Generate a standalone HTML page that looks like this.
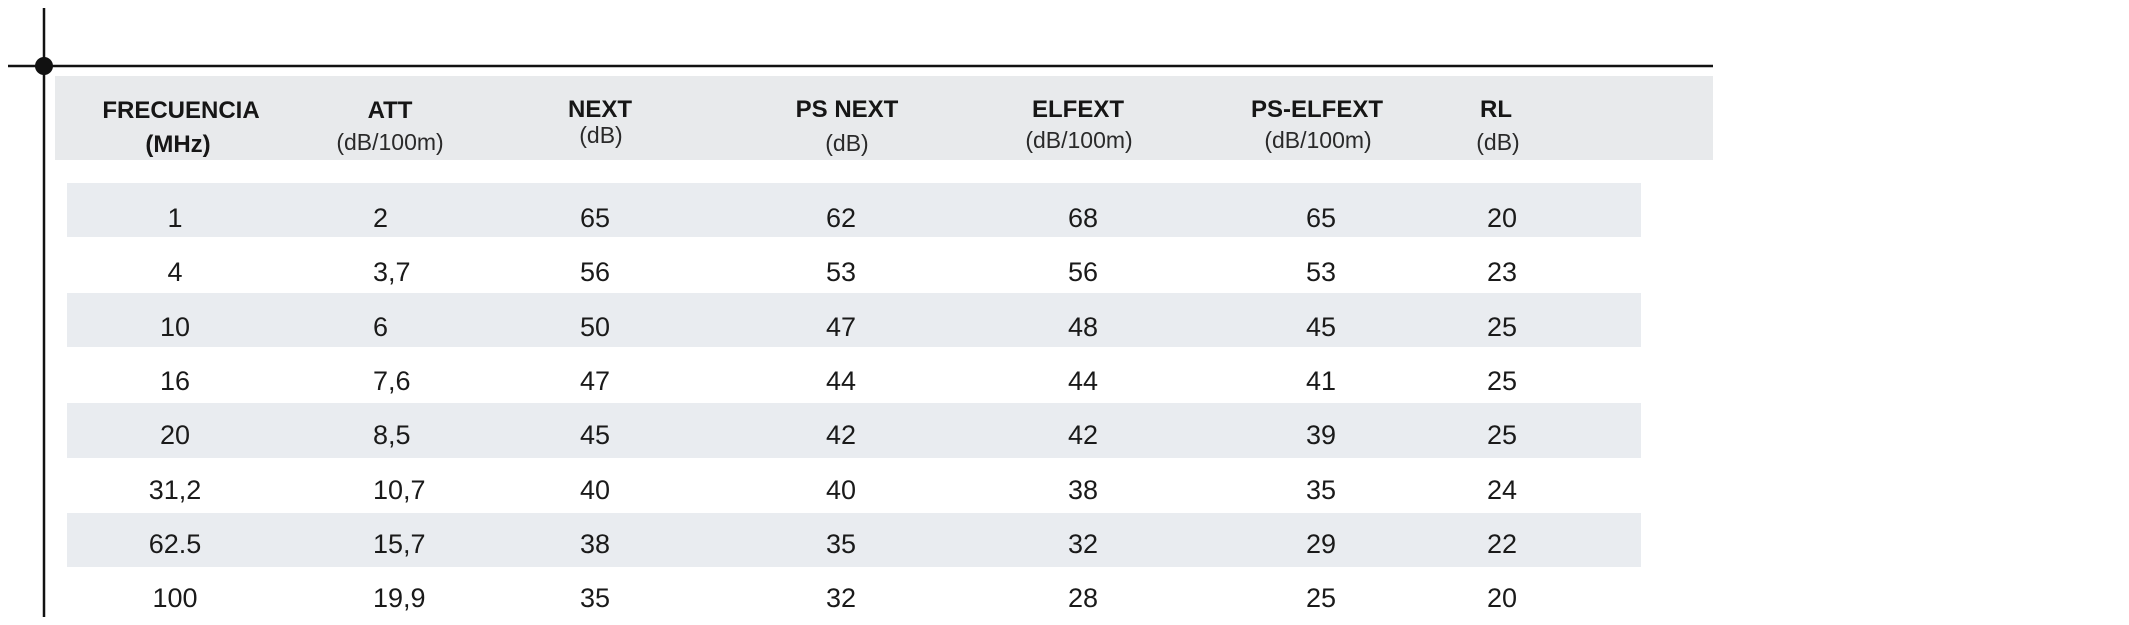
<!DOCTYPE html>
<html>
<head>
<meta charset="utf-8">
<style>
  html, body { margin:0; padding:0; background:#ffffff; }
  body { width:2129px; height:625px; overflow:hidden; }
  svg { display:block; }
  .h { font-family:"Liberation Sans", Arial, sans-serif; font-weight:700; font-size:24px; fill:#161616; }
  .s { font-family:"Liberation Sans", Arial, sans-serif; font-weight:400; font-size:23px; fill:#2a2a2a; }
  .d { font-family:"Liberation Sans", Arial, sans-serif; font-weight:400; font-size:27px; fill:#1a1a1a; }
</style>
</head>
<body>
<svg width="2129" height="625" viewBox="0 0 2129 625" xmlns="http://www.w3.org/2000/svg">
  <rect x="0" y="0" width="2129" height="625" fill="#ffffff"/>

  <!-- header band -->
  <rect x="55" y="76" width="1658" height="84" fill="#e8eaec"/>

  <!-- shaded rows -->
  <rect x="67" y="183" width="1574" height="54" fill="#e9ecf0"/>
  <rect x="67" y="293" width="1574" height="54" fill="#e9ecf0"/>
  <rect x="67" y="403" width="1574" height="55" fill="#e9ecf0"/>
  <rect x="67" y="513" width="1574" height="54" fill="#e9ecf0"/>

  <!-- axes lines -->
  <line x1="44" y1="8" x2="44" y2="617" stroke="#111" stroke-width="2.5"/>
  <line x1="8" y1="66" x2="1713" y2="66" stroke="#111" stroke-width="2.5"/>
  <circle cx="44" cy="66" r="9" fill="#111"/>

  <!-- headers -->
  <text class="h" x="181" y="118" text-anchor="middle">FRECUENCIA</text>
  <text class="h" x="178" y="152" text-anchor="middle">(MHz)</text>

  <text class="h" x="390" y="118" text-anchor="middle">ATT</text>
  <text class="s" x="390" y="150" text-anchor="middle">(dB/100m)</text>

  <text class="h" x="600" y="117" text-anchor="middle">NEXT</text>
  <text class="s" x="601" y="143" text-anchor="middle">(dB)</text>

  <text class="h" x="847" y="117" text-anchor="middle">PS NEXT</text>
  <text class="s" x="847" y="151" text-anchor="middle">(dB)</text>

  <text class="h" x="1078" y="117" text-anchor="middle">ELFEXT</text>
  <text class="s" x="1079" y="148" text-anchor="middle">(dB/100m)</text>

  <text class="h" x="1317" y="117" text-anchor="middle">PS-ELFEXT</text>
  <text class="s" x="1318" y="148" text-anchor="middle">(dB/100m)</text>

  <text class="h" x="1496" y="117" text-anchor="middle">RL</text>
  <text class="s" x="1498" y="150" text-anchor="middle">(dB)</text>

  <!-- data rows -->
  <g class="d">
    <!-- row 1 -->
    <text class="d" x="175" y="227" text-anchor="middle">1</text>
    <text class="d" x="373" y="227">2</text>
    <text class="d" x="595" y="227" text-anchor="middle">65</text>
    <text class="d" x="841" y="227" text-anchor="middle">62</text>
    <text class="d" x="1083" y="227" text-anchor="middle">68</text>
    <text class="d" x="1321" y="227" text-anchor="middle">65</text>
    <text class="d" x="1502" y="227" text-anchor="middle">20</text>
    <!-- row 2 -->
    <text class="d" x="175" y="281" text-anchor="middle">4</text>
    <text class="d" x="373" y="281">3,7</text>
    <text class="d" x="595" y="281" text-anchor="middle">56</text>
    <text class="d" x="841" y="281" text-anchor="middle">53</text>
    <text class="d" x="1083" y="281" text-anchor="middle">56</text>
    <text class="d" x="1321" y="281" text-anchor="middle">53</text>
    <text class="d" x="1502" y="281" text-anchor="middle">23</text>
    <!-- row 3 -->
    <text class="d" x="175" y="336" text-anchor="middle">10</text>
    <text class="d" x="373" y="336">6</text>
    <text class="d" x="595" y="336" text-anchor="middle">50</text>
    <text class="d" x="841" y="336" text-anchor="middle">47</text>
    <text class="d" x="1083" y="336" text-anchor="middle">48</text>
    <text class="d" x="1321" y="336" text-anchor="middle">45</text>
    <text class="d" x="1502" y="336" text-anchor="middle">25</text>
    <!-- row 4 -->
    <text class="d" x="175" y="390" text-anchor="middle">16</text>
    <text class="d" x="373" y="390">7,6</text>
    <text class="d" x="595" y="390" text-anchor="middle">47</text>
    <text class="d" x="841" y="390" text-anchor="middle">44</text>
    <text class="d" x="1083" y="390" text-anchor="middle">44</text>
    <text class="d" x="1321" y="390" text-anchor="middle">41</text>
    <text class="d" x="1502" y="390" text-anchor="middle">25</text>
    <!-- row 5 -->
    <text class="d" x="175" y="444" text-anchor="middle">20</text>
    <text class="d" x="373" y="444">8,5</text>
    <text class="d" x="595" y="444" text-anchor="middle">45</text>
    <text class="d" x="841" y="444" text-anchor="middle">42</text>
    <text class="d" x="1083" y="444" text-anchor="middle">42</text>
    <text class="d" x="1321" y="444" text-anchor="middle">39</text>
    <text class="d" x="1502" y="444" text-anchor="middle">25</text>
    <!-- row 6 -->
    <text class="d" x="175" y="499" text-anchor="middle">31,2</text>
    <text class="d" x="373" y="499">10,7</text>
    <text class="d" x="595" y="499" text-anchor="middle">40</text>
    <text class="d" x="841" y="499" text-anchor="middle">40</text>
    <text class="d" x="1083" y="499" text-anchor="middle">38</text>
    <text class="d" x="1321" y="499" text-anchor="middle">35</text>
    <text class="d" x="1502" y="499" text-anchor="middle">24</text>
    <!-- row 7 -->
    <text class="d" x="175" y="553" text-anchor="middle">62.5</text>
    <text class="d" x="373" y="553">15,7</text>
    <text class="d" x="595" y="553" text-anchor="middle">38</text>
    <text class="d" x="841" y="553" text-anchor="middle">35</text>
    <text class="d" x="1083" y="553" text-anchor="middle">32</text>
    <text class="d" x="1321" y="553" text-anchor="middle">29</text>
    <text class="d" x="1502" y="553" text-anchor="middle">22</text>
    <!-- row 8 -->
    <text class="d" x="175" y="607" text-anchor="middle">100</text>
    <text class="d" x="373" y="607">19,9</text>
    <text class="d" x="595" y="607" text-anchor="middle">35</text>
    <text class="d" x="841" y="607" text-anchor="middle">32</text>
    <text class="d" x="1083" y="607" text-anchor="middle">28</text>
    <text class="d" x="1321" y="607" text-anchor="middle">25</text>
    <text class="d" x="1502" y="607" text-anchor="middle">20</text>
  </g>
</svg>
</body>
</html>
